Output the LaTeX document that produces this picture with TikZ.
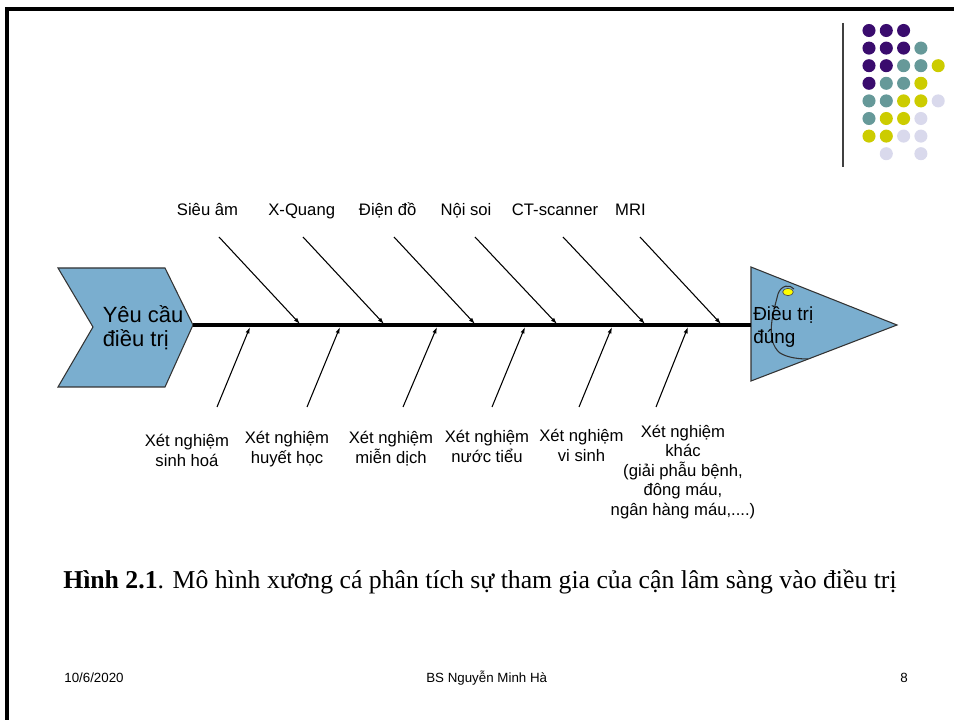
\documentclass[tikz,border=0pt]{standalone}
\usepackage{fontspec}
\setmainfont{Liberation Sans}
\newfontfamily\capfont{Liberation Serif}
\usetikzlibrary{arrows.meta,shapes.geometric}
\definecolor{dotP}{RGB}{58,12,110}
\definecolor{dotT}{RGB}{102,153,153}
\definecolor{dotY}{RGB}{204,204,0}
\definecolor{dotL}{RGB}{217,217,236}
\definecolor{fishblue}{RGB}{122,174,207}
\definecolor{eyeyellow}{RGB}{255,255,0}
\tikzset{
  fishshape/.style={draw=black!80, fill=fishblue, line width=0.8pt, line join=miter},
  bone/.style={line width=0.8pt, -{Latex[length=4.8pt,width=3.2pt]}},
  spine/.style={line width=2.4pt},
  lbl/.style={font=\fontsize{12.5}{15}\selectfont, anchor=base, align=center, inner sep=0pt},
  headtext/.style={font=\fontsize{16.5}{18}\selectfont, anchor=base west, align=left, inner sep=0pt},
  tailtext/.style={font=\fontsize{14.2}{17.25}\selectfont, anchor=base west, align=left, inner sep=0pt},
  foot/.style={font=\fontsize{10}{12}\selectfont, anchor=base, inner sep=0pt},
  dotc/.style={circle, inner sep=0pt, minimum size=9.8pt}
}
\begin{document}
\begin{tikzpicture}[x=0.75pt,y=-0.75pt]
\useasboundingbox (0,0) rectangle (954,720);
% frame
\draw[line width=2.4pt] (7,720) -- (7,9) -- (954,9);
% decorative dots
\draw[line width=1.1pt, black!75] (843,23) -- (843,167);
\foreach \c/\r/\col in {0/0/dotP,1/0/dotP,2/0/dotP,
  0/1/dotP,1/1/dotP,2/1/dotP,3/1/dotT,
  0/2/dotP,1/2/dotP,2/2/dotT,3/2/dotT,4/2/dotY,
  0/3/dotP,1/3/dotT,2/3/dotT,3/3/dotY,
  0/4/dotT,1/4/dotT,2/4/dotY,3/4/dotY,4/4/dotL,
  0/5/dotT,1/5/dotY,2/5/dotY,3/5/dotL,
  0/6/dotY,1/6/dotY,2/6/dotL,3/6/dotL,
  1/7/dotL,3/7/dotL}
  \node[dotc, fill=\col] (d\c\r) at ({869+17.3*\c},{30.5+17.6*\r}) {};
% head (chevron)
\coordinate (headtip) at (193,325);
\draw[fishshape] (58,268) -- (165,268) -- (headtip) -- (165,387) -- (58,387) -- (93,327) -- cycle;
\node[headtext] (headlbl) at (102.5,347) {Yêu cầu\\điều trị};
% tail (triangle)
\coordinate (tailin) at (751,325);
\draw[fishshape] (751,267) -- (897,325) -- (751,381) -- cycle;
\draw[line width=0.8pt, black!80] (794,289) .. controls (790,284) and (781,285) .. (778,294)
  .. controls (774,310) and (764,340) .. (780,353) .. controls (788,358) and (800,359) .. (808,359);
\node[ellipse, draw=black!70, fill=eyeyellow, line width=0.5pt, minimum width=8pt, minimum height=5.5pt, inner sep=0pt] (eye) at (788,292) {};
\node[tailtext] (taillbl) at (753,344) {Điều trị\\đúng};
% spine
\draw[spine] (headtip) -- (tailin);
% upper bones
\foreach \i/\sx/\ex in {1/219/300,2/303/384,3/394/475,4/475/557,5/563/645,6/640/721}{
  \coordinate (us\i) at (\sx,237);
  \coordinate (ue\i) at (\ex,324);
  \draw[bone] (us\i) -- (ue\i);
}
% lower bones
\foreach \i/\sx/\ex in {1/217/250,2/307/340,3/403/437,4/492/525,5/579/612,6/656/688}{
  \coordinate (ls\i) at (\sx,407);
  \coordinate (le\i) at (\ex,327);
  \draw[bone] (ls\i) -- (le\i);
}
% upper labels
\node[lbl] (t1) at (207.5,216) {Siêu âm};
\node[lbl] (t2) at (301.7,216) {X-Quang};
\node[lbl] (t3) at (387.7,216) {Điện đồ};
\node[lbl] (t4) at (466,216) {Nội soi};
\node[lbl] (t5) at (555,216) {CT-scanner};
\node[lbl] (t6) at (630.5,216) {MRI};
% lower labels (anchor = baseline of last line)
\node[lbl] (b1) at (187,466) {Xét nghiệm\\sinh hoá};
\node[lbl] (b2) at (287,464) {Xét nghiệm\\huyết học};
\node[lbl] (b3) at (391,464) {Xét nghiệm\\miễn dịch};
\node[lbl] (b4) at (487,462) {Xét nghiệm\\nước tiểu};
\node[lbl] (b5) at (581.5,461) {Xét nghiệm\\vi sinh};
\node[lbl, font=\fontsize{12.5}{14.6}\selectfont] (b6) at (683,515) {Xét nghiệm\\khác\\(giải phẫu bệnh,\\đông máu,\\ngân hàng máu,....)};
% caption
\node[anchor=base west, inner sep=0pt, font=\capfont\fontsize{19.3}{23}\selectfont] (cap) at (63,588) {\textbf{Hình 2.1}. Mô hình xương cá phân tích sự tham gia của cận lâm sàng vào điều trị};
% footer
\node[foot] (f1) at (94,682) {10/6/2020};
\node[foot] (f2) at (486.7,682) {BS Nguyễn Minh Hà};
\node[foot] (f3) at (904,682) {8};
\end{tikzpicture}
\end{document}
